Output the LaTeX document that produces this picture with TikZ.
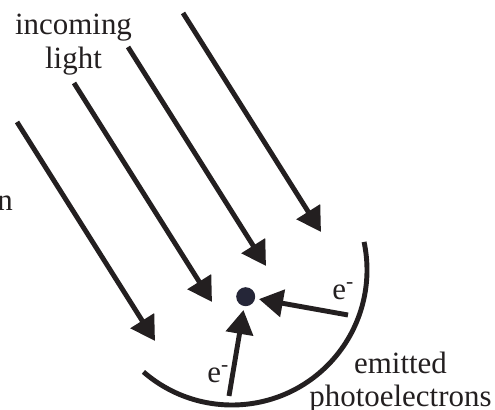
\documentclass[tikz,border=0pt]{standalone}
\usepackage{fontspec}
\setmainfont{Liberation Serif}
\usetikzlibrary{arrows.meta}
\definecolor{ink}{RGB}{35,31,32}
\definecolor{dotblue}{RGB}{37,38,56}
\begin{document}
\begin{tikzpicture}[
    ray/.style={ink,line width=2.8pt,-{Triangle[length=0.48cm,width=0.54cm]}},
    lbl/.style={ink,inner sep=0pt,font=\fontsize{17.6}{19}\selectfont}]
    \useasboundingbox (0,0) rectangle (9.9,8.2);
    \foreach \sx/\sy in {0.34/5.76,1.48/6.54,2.56/7.26,3.66/7.94}
      \draw[ray] (\sx,\sy) -- ++(2.76,-4.38);
    \node[circle,fill=dotblue,inner sep=0pt,minimum size=0.38cm,outer sep=0.08cm] (dot) at (4.914,2.266) {};
    \draw[ink,line width=2.8pt] (4.64,2.80) ++(-131:2.70) arc (-131:12:2.70);
    \coordinate (eright) at (6.96,1.90);
    \coordinate (ebottom) at (4.58,0.28);
    \draw[ray] (eright) -- (dot);
    \draw[ray] (ebottom) -- (dot);
    \node[lbl,anchor=base west] (e1) at (6.64,2.20) {e\textsuperscript{-}};
    \node[lbl,anchor=base west] (e2) at (4.14,0.54) {e\textsuperscript{-}};
    \node[lbl,align=center] (light) at (1.47,7.31) {incoming\\light};
    \node[lbl,align=center] (emitted) at (8.01,0.55) {emitted\\photoelectrons};
    \node[lbl,anchor=base west] (cut) at (-0.06,3.98) {n};
\end{tikzpicture}
\end{document}
